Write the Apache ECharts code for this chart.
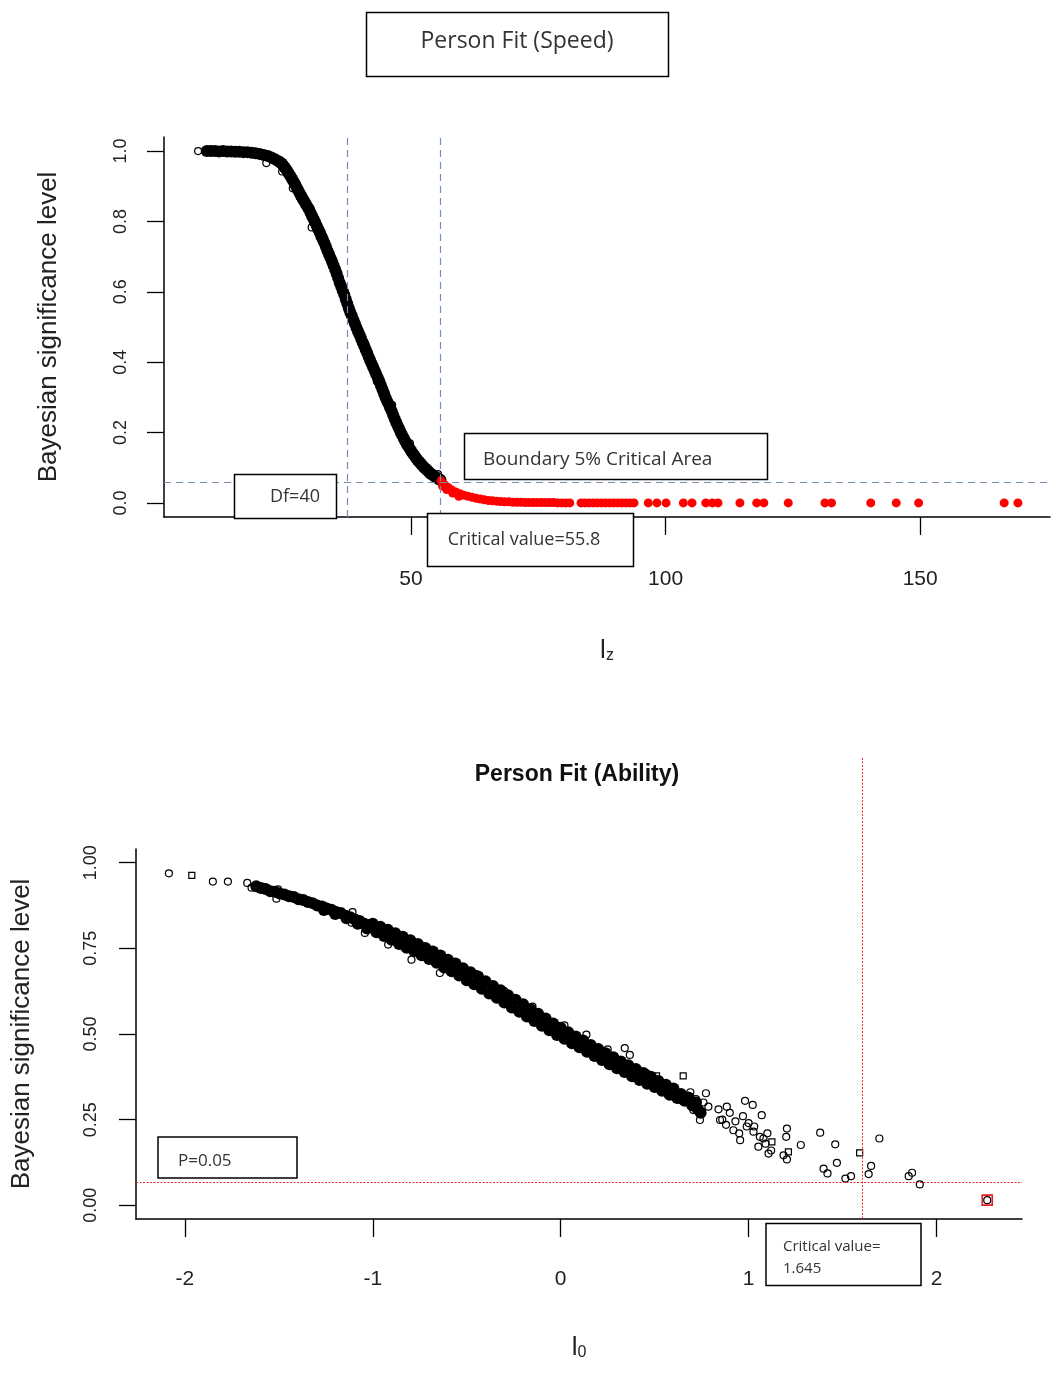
<!DOCTYPE html>
<html><head><meta charset="utf-8">
<script src="https://cdn.jsdelivr.net/npm/echarts@6/dist/echarts.min.js"></script>
<style>html,body{margin:0;padding:0;background:#fff}#c{width:1053px;height:1374px}</style>
</head><body><div id="c"></div>
<script>
// ---------- tick labels ----------
const speedXTicks = [50, 100, 150];
const speedYTicks = [0, 0.2, 0.4, 0.6, 0.8, 1.0];
const abilityXTicks = [-2, -1, 0, 1, 2];
const abilityYTicks = [0, 0.25, 0.5, 0.75, 1.0];

// ---------- Person Fit (Speed): lz vs Bayesian significance ----------
const speedDense = [
 [9.9,1.0],[10.7,1.0],[11.5,1.0],[12.3,0.999],[13.1,1.0],[13.9,0.999],[14.7,0.999],[15.5,0.998],[16.3,0.998],[17.1,0.997],
 [17.9,0.997],[18.7,0.995],[19.5,0.994],[20.3,0.992],[21.1,0.989],[21.9,0.986],[22.6,0.982],[23.3,0.977],[24.0,0.971],
 [24.3,0.968],[24.6,0.965],[24.9,0.960],[25.2,0.953],[25.5,0.948],[25.8,0.941],[26.1,0.934],[26.4,0.927],[26.7,0.919],[27.0,0.912],
 [27.3,0.904],[27.6,0.895],[27.9,0.887],[28.2,0.879],[28.5,0.871],[28.8,0.863],[29.1,0.856],[29.4,0.848],[29.7,0.841],[30.0,0.834],
 [30.3,0.824],[30.6,0.815],[30.9,0.806],[31.2,0.797],[31.5,0.787],[31.8,0.778],[32.1,0.769],[32.4,0.759],[32.7,0.749],[33.0,0.739],
 [33.3,0.728],[33.6,0.717],[33.9,0.707],[34.2,0.696],[34.5,0.686],[34.8,0.675],[35.1,0.664],[35.4,0.652],[35.7,0.639],[36.0,0.626],
 [36.3,0.615],[36.6,0.603],[36.9,0.592],[37.2,0.579],[37.5,0.566],[37.8,0.553],[38.1,0.541],[38.4,0.531],[38.7,0.520],[39.0,0.509],
 [39.3,0.498],[39.6,0.488],[39.9,0.478],[40.2,0.467],[40.5,0.457],[40.8,0.447],[41.1,0.436],[41.4,0.426],[41.7,0.415],[42.0,0.405],
 [42.3,0.395],[42.6,0.385],[42.9,0.375],[43.2,0.365],[43.5,0.355],[43.8,0.345],[44.1,0.334],[44.4,0.323],[44.7,0.312],[45.0,0.300],
 [45.3,0.290],[45.6,0.281],[45.9,0.271],[46.2,0.261],[46.5,0.250],[46.8,0.239],[47.1,0.229],[47.4,0.219],[47.7,0.210],[48.0,0.200],
 [48.3,0.192],[48.6,0.183],[48.9,0.175],[49.2,0.167],[49.5,0.160],[49.8,0.153],[50.1,0.146],[50.4,0.140],[50.7,0.134],[51.0,0.128],
 [51.3,0.122],[51.6,0.117],[51.9,0.112],[52.2,0.107],[52.5,0.102],[52.8,0.098],[53.1,0.094],[53.4,0.090],[53.7,0.085],[54.0,0.082],
 [54.3,0.079],[54.6,0.076],[54.9,0.073],[55.2,0.070],[55.5,0.068],[55.8,0.065]
];
const speedOpen = [
 [8.2,1.0],[21.6,0.966],[24.7,0.942],[26.8,0.894],[28.2,0.869],[30.5,0.783],[32.1,0.755],
 [41.0,0.452],[43.3,0.346],[46.3,0.278],[49.8,0.169],[55.3,0.082]
];
const speedFlagged = [
 [55.9,0.063],[56.2,0.048],[56.6,0.052],[57.0,0.038],[57.3,0.044],[58.0,0.037],[58.2,0.028],[58.8,0.031],[59.4,0.019],[59.6,0.026],
 [60.4,0.022],[61.2,0.019],[62.0,0.016],[62.8,0.013],[63.6,0.011],[64.4,0.009],[65.2,0.007],[66.0,0.006],[66.8,0.005],[67.6,0.004],
 [68.4,0.003],[69.2,0.003],[70.0,0.002],[70.8,0.002],[71.6,0.002],[72.4,0.001],[73.2,0.001],
 [74.0,0.001],[74.8,0.001],[75.6,0.001],[76.4,0.001],[77.2,0.001],[78.0,0.001],[78.8,0],[79.6,0],[80.4,0],[81.2,0],
 [83.4,0],[84.2,0],[85.0,0],[85.8,0],[86.6,0],[87.4,0],[88.2,0],[89.0,0],[89.8,0],[90.6,0],[91.4,0],[92.2,0],[93.0,0],[93.8,0],
 [96.6,0],[98.3,0],[100.1,0],[103.5,0],[105.2,0],[107.9,0],[109.2,0],[110.3,0],[114.6,0],[117.9,0],[119.3,0],
 [124.1,0],[131.3,0],[132.6,0],[140.3,0],[145.3,0],[149.7,0],[166.5,0],[169.2,0]
];
const speedDfLine = 37.4;
const speedCritValue = 55.8;
const speedPLine = 0.06;

// ---------- Person Fit (Ability): l0 vs Bayesian significance ----------
const abilityDense = [
 [-1.62,0.931],[-1.595,0.926],[-1.57,0.923],[-1.545,0.917],[-1.52,0.915],[-1.495,0.910],[-1.47,0.907],[-1.445,0.902],[-1.42,0.900],
 [-1.395,0.893],[-1.37,0.891],[-1.345,0.885],[-1.32,0.882],[-1.295,0.875],[-1.27,0.872],[-1.245,0.866],[-1.22,0.863],[-1.195,0.856],
 [-1.17,0.853],[-1.145,0.845],[-1.12,0.841],[-1.095,0.834],[-1.07,0.830],[-1.045,0.822],[-1.02,0.818],
 [-1.26,0.862],[-1.20,0.850],[-1.14,0.838],[-1.08,0.822],[-1.03,0.808],
 [-1.00,0.822],[-0.98,0.797],[-0.96,0.813],[-0.94,0.786],[-0.92,0.804],[-0.90,0.775],[-0.88,0.794],[-0.86,0.763],[-0.84,0.784],[-0.82,0.752],
 [-0.80,0.774],[-0.78,0.742],[-0.76,0.763],[-0.74,0.730],[-0.72,0.751],[-0.70,0.719],[-0.68,0.741],[-0.66,0.708],[-0.64,0.729],[-0.62,0.694],
 [-0.60,0.717],[-0.58,0.683],[-0.56,0.706],[-0.54,0.671],[-0.52,0.692],[-0.50,0.657],[-0.48,0.680],[-0.46,0.645],[-0.44,0.668],[-0.42,0.632],
 [-0.40,0.654],[-0.38,0.618],[-0.36,0.640],[-0.34,0.606],[-0.32,0.628],[-0.30,0.592],[-0.28,0.613],[-0.26,0.577],[-0.24,0.600],[-0.22,0.565],
 [-0.20,0.587],[-0.18,0.551],[-0.16,0.572],[-0.14,0.538],[-0.12,0.559],[-0.10,0.524],[-0.08,0.545],[-0.06,0.511],[-0.04,0.531],[-0.02,0.497],
 [0.00,0.518],[0.02,0.486],[0.04,0.505],[0.06,0.473],[0.08,0.493],[0.10,0.461],[0.12,0.481],[0.14,0.448],[0.16,0.468],[0.18,0.436],
 [0.20,0.456],[0.22,0.424],[0.24,0.444],[0.26,0.412],[0.28,0.432],[0.30,0.400],[0.32,0.420],[0.34,0.389],[0.36,0.409],[0.38,0.377],
 [0.40,0.398],[0.42,0.366],[0.44,0.386],[0.46,0.355],[0.48,0.375],[0.50,0.345],[0.52,0.363],[0.54,0.334],[0.56,0.352],[0.58,0.323],
 [0.60,0.341],[0.62,0.313],[0.64,0.325],[0.66,0.305],[0.68,0.315],[0.70,0.292],[0.72,0.300],[0.73,0.280],[0.745,0.270]
];
const abilityCircles = [
 [-2.085,0.969],[-1.851,0.945],[-1.771,0.945],[-1.668,0.941],[-1.645,0.927],[-1.504,0.922],[-1.513,0.895],[-1.264,0.866],
 [-1.108,0.856],[-1.113,0.825],[-1.042,0.795],[-0.918,0.761],[-0.794,0.717],[-0.643,0.678],[-0.45,0.675],[-0.30,0.625],
 [-0.15,0.580],[0.02,0.525],[0.137,0.498],[0.25,0.455],
 [0.341,0.459],[0.368,0.439],[0.457,0.385],[0.581,0.346],[0.635,0.307],[0.69,0.330],[0.706,0.278],[0.72,0.310],[0.741,0.249],
 [0.745,0.270],[0.76,0.300],[0.773,0.327],[0.786,0.288],[0.84,0.280],[0.848,0.249],[0.86,0.250],[0.88,0.235],[0.884,0.288],
 [0.90,0.270],[0.919,0.219],[0.93,0.245],[0.955,0.190],[0.95,0.210],[0.97,0.260],[0.981,0.305],[0.99,0.230],[1.00,0.240],
 [1.022,0.293],[1.026,0.215],[1.03,0.230],[1.052,0.171],[1.06,0.200],[1.07,0.263],[1.079,0.195],[1.09,0.180],[1.10,0.210],
 [1.106,0.151],[1.12,0.160],[1.186,0.146],[1.20,0.200],[1.204,0.224],[1.204,0.134],[1.278,0.176],[1.381,0.212],[1.399,0.107],
 [1.42,0.093],[1.461,0.178],[1.47,0.124],[1.515,0.078],[1.545,0.085],[1.639,0.091],[1.652,0.115],[1.696,0.195],[1.852,0.085],
 [1.87,0.095],[1.911,0.061],[2.27,0.015]
];
const abilitySquares = [
 [-1.963,0.963],[-1.615,0.930],[-1.569,0.920],[0.51,0.378],[0.652,0.378],[1.124,0.185],[1.212,0.156],[1.591,0.153]
];
const abilityFlagged = [[2.27,0.015]];
const abilityCritLine = 1.605;
const abilityPLine = 0.067;

// ---------- chart ----------
const chart = echarts.init(document.getElementById('c'), null, {renderer:'canvas'});
const TXT = '#222';
function xAx(grid, min, max, ticks, sub, margin, gap) {
  return {
    gridIndex: grid, type:'value', min:min, max:max,
    splitLine:{show:false},
    axisLine:{show:true, onZero:false, lineStyle:{color:'#000', width:1.5}},
    axisTick:{show:true, customValues:ticks, length:18, lineStyle:{color:'#000', width:1.3}},
    axisLabel:{customValues:ticks, margin:margin, fontFamily:'Liberation Sans', fontSize:21, color:TXT},
    name:'{l|l}{s|' + sub + '}', nameLocation:'middle', nameGap:gap,
    nameTextStyle:{rich:{
      l:{fontSize:26, fontFamily:'Liberation Sans', color:TXT},
      s:{fontSize:16, fontFamily:'Liberation Sans', color:TXT, verticalAlign:'bottom'}
    }}
  };
}
function yAx(grid, ticks, dec, margin, gap, fs) {
  return {
    gridIndex: grid, type:'value', min:-0.04, max:1.04,
    splitLine:{show:false},
    axisLine:{show:true, onZero:false, lineStyle:{color:'#000', width:1.5}},
    axisTick:{show:true, customValues:ticks, length:17, lineStyle:{color:'#000', width:1.3}},
    axisLabel:{customValues:ticks, rotate:90, margin:margin, fontFamily:'Liberation Sans', fontSize:fs, color:TXT,
      formatter:function(v){return Number(v).toFixed(dec);}},
    name:'Bayesian significance level', nameLocation:'middle', nameGap:gap,
    nameTextStyle:{fontFamily:'Liberation Sans', fontSize:26, color:TXT}
  };
}
const open = {color:'rgba(0,0,0,0)', borderColor:'#000', borderWidth:1.2, opacity:1};
const option = {
  animation:false,
  backgroundColor:'#fff',
  grid:[
    {left:164, top:137, width:886, height:380},
    {left:136, top:849, width:886, height:370}
  ],
  xAxis:[
    xAx(0, 1.5, 175.5, speedXTicks, 'z', 52, 121),
    xAx(1, -2.26, 2.455, abilityXTicks, '0', 50, 116)
  ],
  yAxis:[
    yAx(0, speedYTicks, 1, 34, 102, 18),
    yAx(1, abilityYTicks, 2, 36, 101, 18)
  ],
  series:[
    {type:'scatter', xAxisIndex:0, yAxisIndex:0, data:speedDense, symbol:'circle', symbolSize:12,
      itemStyle:{color:'#000', opacity:1}, silent:true,
      markLine:{silent:true, symbol:'none', label:{show:false}, animation:false,
        lineStyle:{color:'#6f8fb5', type:[7,5], width:1.2, opacity:1},
        data:[{xAxis:speedDfLine},{xAxis:speedCritValue},{yAxis:speedPLine}]}},
    {type:'scatter', xAxisIndex:0, yAxisIndex:0, data:speedOpen, symbol:'circle', symbolSize:7, itemStyle:open, silent:true},
    {type:'scatter', xAxisIndex:0, yAxisIndex:0, data:speedFlagged, symbol:'circle', symbolSize:9,
      itemStyle:{color:'#f00', opacity:1}, silent:true},
    {type:'scatter', xAxisIndex:1, yAxisIndex:1, data:abilityDense, symbol:'circle', symbolSize:12,
      itemStyle:{color:'#000', opacity:1}, silent:true},
    {type:'scatter', xAxisIndex:1, yAxisIndex:1, data:abilityCircles, symbol:'circle', symbolSize:7, itemStyle:open, silent:true},
    {type:'scatter', xAxisIndex:1, yAxisIndex:1, data:abilitySquares, symbol:'rect', symbolSize:6, itemStyle:open, silent:true},
    {type:'scatter', xAxisIndex:1, yAxisIndex:1, data:abilityFlagged, symbol:'rect', symbolSize:10,
      itemStyle:{color:'rgba(0,0,0,0)', borderColor:'#e02020', borderWidth:1.6, opacity:1}, silent:true}
  ]
};
chart.setOption(option);

const pB = chart.convertToPixel({xAxisIndex:1, yAxisIndex:1}, [abilityCritLine, -0.04]);
const pL = chart.convertToPixel({xAxisIndex:1, yAxisIndex:1}, [-2.26, abilityPLine]);
const pR = chart.convertToPixel({xAxisIndex:1, yAxisIndex:1}, [2.455, abilityPLine]);
const vx = Math.round(pB[0]) + 0.5, hy = Math.round(pL[1]) + 0.5;
function box(x, y, w, h) {
  return {type:'rect', z:100, shape:{x:x, y:y, width:w, height:h}, style:{fill:'#fff', stroke:'#000', lineWidth:1.5}};
}
function txt(s, x, y, size, align) {
  return {type:'text', z:101, style:{text:s, x:x, y:y, fontFamily:'Open Sans', fontSize:size,
    fill:'#333', align:align, verticalAlign:'middle'}};
}
const redDot = {stroke:'#ee2a2a', lineWidth:1, lineDash:[2,1.5]};
chart.setOption({graphic:{elements:[
  {type:'line', z:50, shape:{x1:pL[0], y1:hy, x2:pR[0], y2:hy}, style:redDot},
  {type:'line', z:50, shape:{x1:vx, y1:758, x2:vx, y2:pB[1]}, style:redDot},
  box(366.5, 12.5, 302, 64), txt('Person Fit (Speed)', 517, 41, 23, 'center'),
  box(464.5, 433.5, 303, 46), txt('Boundary 5% Critical Area', 483, 460, 19, 'left'),
  box(234.5, 474.5, 102, 44), txt('Df=40', 295, 497, 18, 'center'),
  box(427.5, 513.5, 206, 53), txt('Critical value=55.8', 524, 540, 18, 'center'),
  {type:'text', z:101, style:{text:'Person Fit (Ability)', x:577, y:775, fontFamily:'Liberation Sans', fontWeight:'bold',
    fontSize:23, fill:'#111', align:'center', verticalAlign:'middle'}},
  box(158, 1137, 139, 41), txt('P=0.05', 178, 1161, 17, 'left'),
  box(766, 1223.5, 155, 62), txt('Critical value=', 783, 1247, 15, 'left'), txt('1.645', 783, 1269, 15, 'left')
]}});
</script>
</body></html>
